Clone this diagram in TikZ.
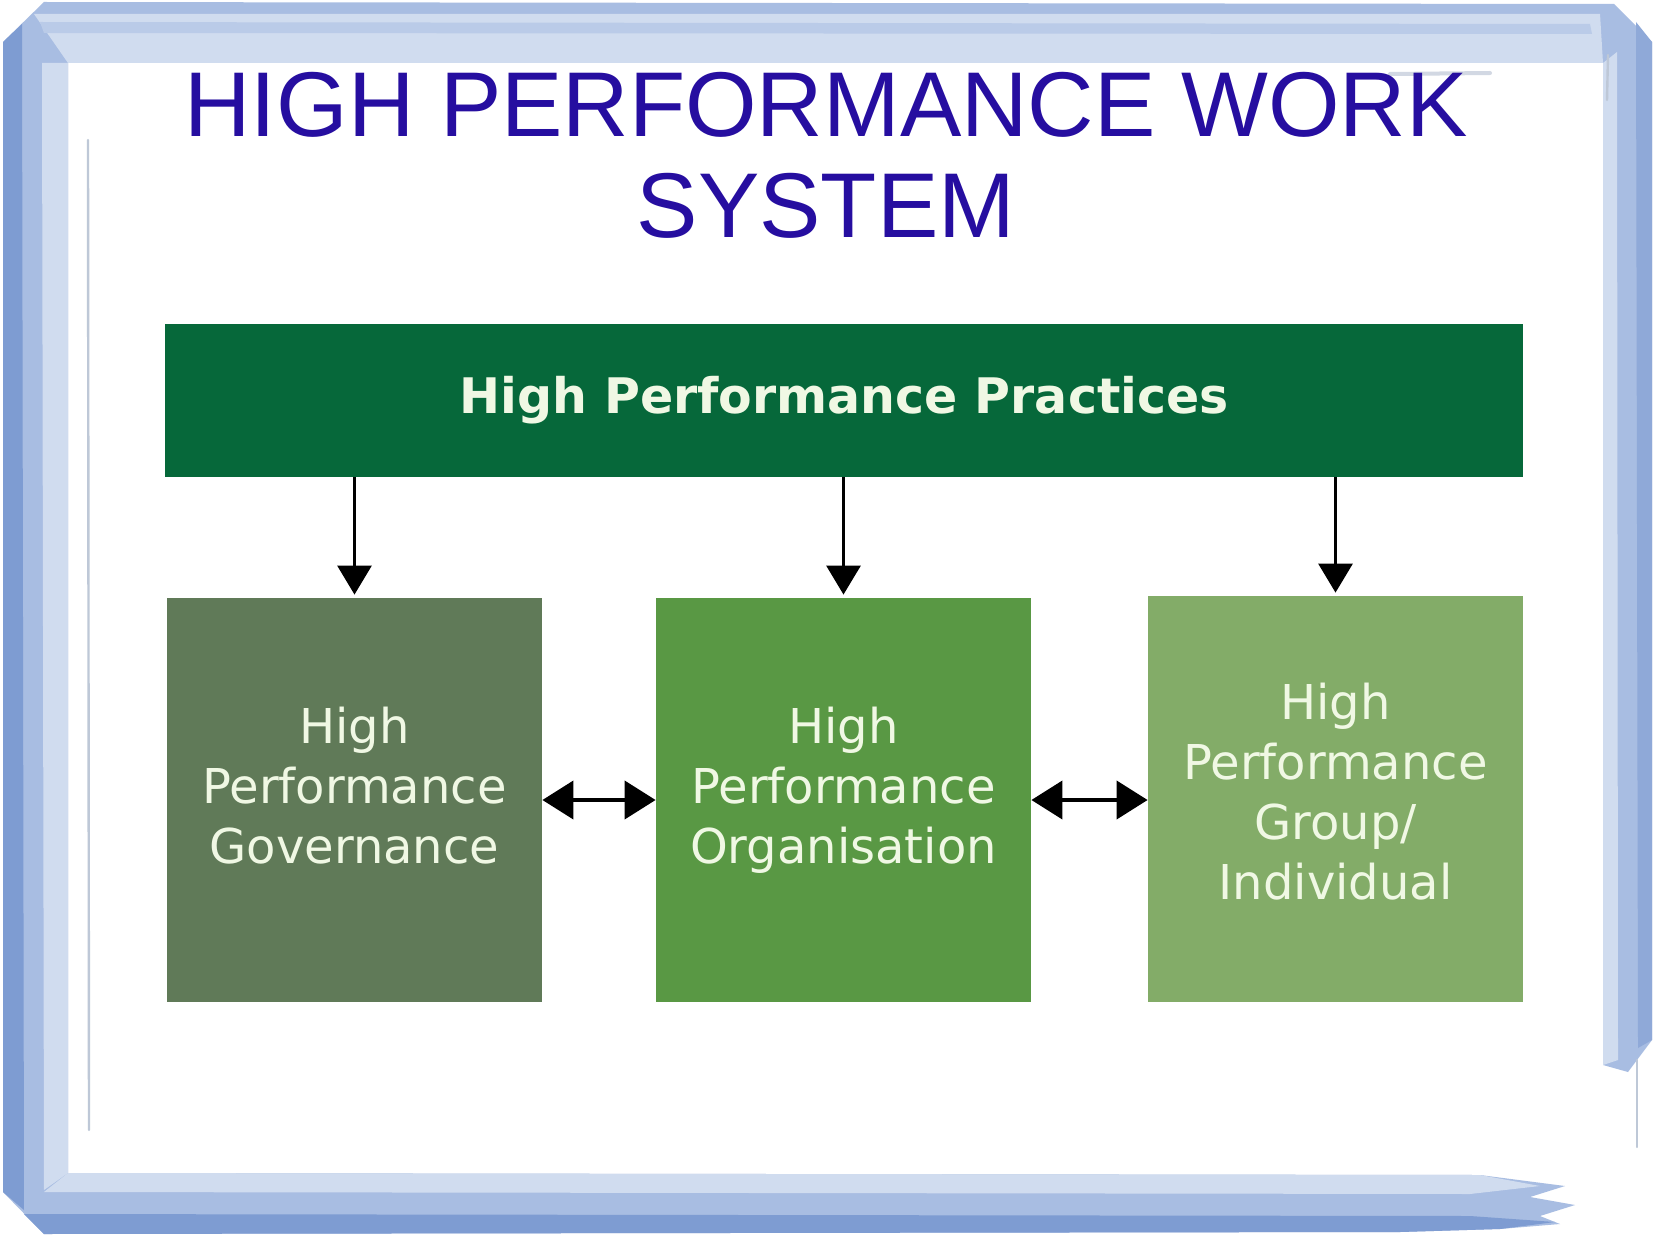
\documentclass[tikz,border=0pt]{standalone}
\usepackage{fontspec}
\setmainfont{Liberation Sans}
\newfontfamily\boxfont{DejaVu Sans}
\usetikzlibrary{arrows.meta}
\definecolor{titleblue}{RGB}{38,14,160}
\definecolor{barGreen}{RGB}{6,104,58}
\definecolor{govGreen}{RGB}{96,122,88}
\definecolor{orgGreen}{RGB}{89,152,68}
\definecolor{grpGreen}{RGB}{131,172,104}
\definecolor{paleText}{RGB}{240,248,228}
\definecolor{frameDark}{RGB}{126,156,210}
\definecolor{frameMid}{RGB}{168,189,226}
\definecolor{frameLight}{RGB}{208,220,239}
\definecolor{frameStreak}{RGB}{190,200,215}
\begin{document}
\begin{tikzpicture}[x=0.5pt,y=-0.5pt,
  titletext/.style={text=titleblue,inner sep=0pt,anchor=base,font=\fontsize{46}{50}\selectfont},
  barbox/.style={fill=barGreen,minimum width=679pt,minimum height=76.5pt,inner sep=0pt,
    text=paleText,font=\boxfont\bfseries\fontsize{24.5}{30}\selectfont},
  cardbox/.style={minimum width=187.5pt,minimum height=202pt,inner sep=0pt},
  cardtext/.style={text=paleText,align=center,inner sep=0pt,font=\boxfont\fontsize{24}{30}\selectfont},
  downarrow/.style={-{Triangle[length=14.5pt,width=17pt]},line width=1.5pt,black,shorten >=1.5pt},
  botharrow/.style={{Triangle[length=15.5pt,width=19pt]}-{Triangle[length=15.5pt,width=19pt]},line width=2pt,black}]
\useasboundingbox (0,0) rectangle (1654,1241);
\fill[white] (0,0) rectangle (1654,1241);
% painted frame
\fill[frameMid] (1652,1040) -- (1652,42) -- (1614,4) -- (44,2) -- (3,42) -- (3,1192) -- (44,1234)
  -- (1400,1232) -- (1500,1229) -- (1560,1224) -- (1540,1216) -- (1575,1205) -- (1530,1197)
  -- (1565,1186) -- (1480,1175) -- (68,1173) -- (68,63) -- (1603,63) -- (1603,1065) -- (1628,1072) -- cycle;
\fill[frameDark] (3,42) -- (22,24) -- (24,1210) -- (3,1192) -- cycle;
\fill[frameDark] (44,1234) -- (24,1214) -- (1470,1216) -- (1555,1222) -- (1500,1229) -- (1400,1232) -- cycle;
\fill[frameDark!60!frameMid] (1636,22) -- (1652,42) -- (1652,1040) -- (1638,1048) -- cycle;
\fill[frameLight] (34,14) -- (1600,14) -- (1603,63) -- (68,63) -- cycle;
\fill[frameMid!55!frameLight] (40,22) -- (1590,24) -- (1592,34) -- (44,33) -- cycle;
\fill[frameLight] (42,63) -- (68,63) -- (68,1173) -- (44,1190) -- cycle;
\fill[frameLight] (68,1173) -- (1480,1175) -- (1540,1186) -- (1470,1194) -- (44,1192) -- cycle;
\fill[frameLight] (1603,63) -- (1617,52) -- (1618,1060) -- (1603,1065) -- cycle;
\draw[frameStreak,line width=1.2pt,line cap=round] (88,140) -- (89,1130);
\draw[frameStreak,line width=1.2pt,line cap=round] (1637,1060) -- (1637,1147);
\draw[frameStreak,line width=1.2pt,line cap=round] (1608,55) -- (1607,100);
\draw[frameStreak!70!white,line width=2pt,line cap=round] (1390,74) -- (1490,73);
% title
\node[titletext] (title1) at (826,137) {HIGH PERFORMANCE WORK};
\node[titletext] (title2) at (826,238) {SYSTEM};
% top bar
\node[barbox] (bar) at (844,400.5) {High Performance Practices};
% cards
\node[cardbox,fill=govGreen] (b1) at (354.5,800) {};
\node[cardbox,fill=orgGreen] (b2) at (843.5,800) {};
\node[cardbox,fill=grpGreen,minimum height=203pt] (b3) at (1335.5,799) {};
\node[cardtext] (t1) at (354.5,786) {High\\Performance\\Governance};
\node[cardtext] (t2) at (843.5,790) {High\\Performance\\Organisation};
\node[cardtext] (t3) at (1335.5,792) {High\\Performance\\Group/\\Individual};
% connectors
\draw[downarrow] (bar.south -| b1.north) -- (b1.north);
\draw[downarrow] (bar.south -| b2.north) -- (b2.north);
\draw[downarrow] (bar.south -| b3.north) -- (b3.north);
\draw[botharrow] (b1.east) -- (b2.west);
\draw[botharrow] (b2.east) -- (b2.east -| b3.west);
\end{tikzpicture}
\end{document}
